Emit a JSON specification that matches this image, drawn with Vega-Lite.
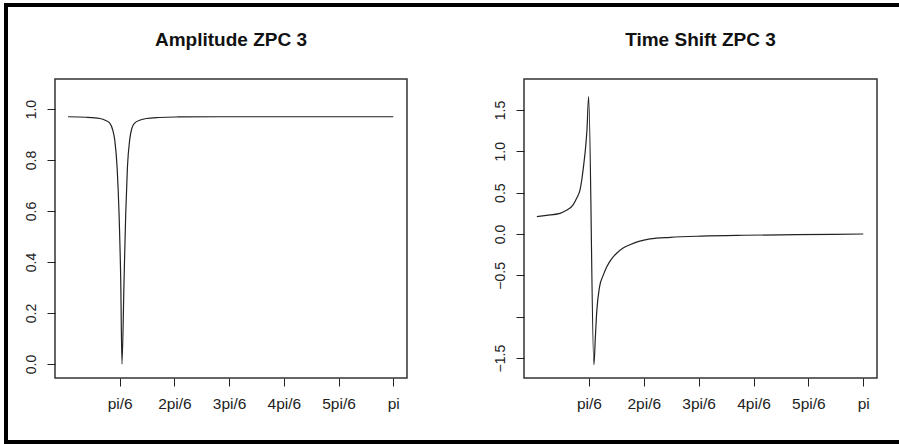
{
  "$schema": "https://vega.github.io/schema/vega-lite/v6.json",
  "background": "white",
  "padding": {"left": 4, "top": 3, "right": 0, "bottom": 0},
  "datasets": {
    "amp": [
      {"x": 0.029, "y": 0.970}, {"x": 0.2, "y": 0.968}, {"x": 0.333, "y": 0.963}, {"x": 0.39, "y": 0.955},
      {"x": 0.428, "y": 0.945}, {"x": 0.455, "y": 0.92}, {"x": 0.476, "y": 0.878}, {"x": 0.498, "y": 0.774},
      {"x": 0.517, "y": 0.59}, {"x": 0.533, "y": 0.33}, {"x": 0.545, "y": 0.0}, {"x": 0.565, "y": 0.33},
      {"x": 0.581, "y": 0.59}, {"x": 0.597, "y": 0.77}, {"x": 0.619, "y": 0.88}, {"x": 0.64, "y": 0.925},
      {"x": 0.666, "y": 0.945}, {"x": 0.72, "y": 0.957}, {"x": 0.778, "y": 0.963}, {"x": 0.9, "y": 0.967},
      {"x": 1.063, "y": 0.969}, {"x": 1.5, "y": 0.970}, {"x": 2.0, "y": 0.970}, {"x": 2.5, "y": 0.970},
      {"x": 3.1416, "y": 0.970}
    ],
    "ts": [
      {"x": 0.027, "y": 0.21}, {"x": 0.12, "y": 0.225}, {"x": 0.247, "y": 0.25}, {"x": 0.30, "y": 0.28},
      {"x": 0.371, "y": 0.35}, {"x": 0.41, "y": 0.44}, {"x": 0.438, "y": 0.53}, {"x": 0.455, "y": 0.65},
      {"x": 0.476, "y": 0.86}, {"x": 0.49, "y": 1.02}, {"x": 0.505, "y": 1.26}, {"x": 0.521, "y": 1.66},
      {"x": 0.571, "y": -1.58}, {"x": 0.585, "y": -1.25}, {"x": 0.597, "y": -0.96}, {"x": 0.625, "y": -0.64},
      {"x": 0.66, "y": -0.50}, {"x": 0.693, "y": -0.40}, {"x": 0.74, "y": -0.30}, {"x": 0.791, "y": -0.23},
      {"x": 0.85, "y": -0.17}, {"x": 0.915, "y": -0.13}, {"x": 1.0, "y": -0.09}, {"x": 1.106, "y": -0.06},
      {"x": 1.3, "y": -0.04}, {"x": 1.6, "y": -0.025}, {"x": 2.0, "y": -0.015}, {"x": 2.5, "y": -0.008},
      {"x": 3.1416, "y": 0.0}
    ]
  },
  "bounds": "full",
  "spacing": 0,
  "vconcat": [
    {
      "width": 895, "height": 4,
      "data": {"values": []},
      "mark": "point",
      "view": {"fill": "black", "stroke": null}
    },
    {
      "bounds": "flush",
      "spacing": 47,
      "hconcat": [
        {
          "width": 4, "height": 433,
          "data": {"values": []},
          "mark": "point",
          "view": {"fill": "black", "stroke": null}
        },
        {
          "bounds": "flush",
          "spacing": 71,
          "vconcat": [
            {
              "width": 1, "height": 1,
              "data": {"values": []},
              "mark": "point",
              "view": {"stroke": null}
            },
            {
              "bounds": "flush",
              "spacing": 117,
              "hconcat": [
                {
                  "width": 352, "height": 299,
                  "title": "Amplitude ZPC 3",
                  "data": {"name": "amp"},
                  "mark": {"type": "line", "interpolate": "monotone", "color": "#222", "strokeWidth": 1.2},
                  "encoding": {
                    "x": {"field": "x", "type": "quantitative",
                      "scale": {"domain": [-0.096, 3.273], "nice": false, "zero": false},
                      "axis": {"title": null, "values": [0.5236, 1.0472, 1.5708, 2.0944, 2.618, 3.1416],
                        "labelExpr": "['', 'pi/6', '2pi/6', '3pi/6', '4pi/6', '5pi/6', 'pi'][round(datum.value * 6 / PI)]"}},
                    "y": {"field": "y", "type": "quantitative",
                      "scale": {"domain": [-0.055, 1.118], "nice": false, "zero": false},
                      "axis": {"title": null, "values": [0, 0.2, 0.4, 0.6, 0.8, 1.0], "format": ".1f"}}
                  }
                },
                {
                  "width": 353, "height": 299,
                  "title": "Time Shift ZPC 3",
                  "data": {"name": "ts"},
                  "mark": {"type": "line", "interpolate": "monotone", "color": "#222", "strokeWidth": 1.2},
                  "encoding": {
                    "x": {"field": "x", "type": "quantitative",
                      "scale": {"domain": [-0.096, 3.273], "nice": false, "zero": false},
                      "axis": {"title": null, "values": [0.5236, 1.0472, 1.5708, 2.0944, 2.618, 3.1416],
                        "labelExpr": "['', 'pi/6', '2pi/6', '3pi/6', '4pi/6', '5pi/6', 'pi'][round(datum.value * 6 / PI)]"}},
                    "y": {"field": "y", "type": "quantitative",
                      "scale": {"domain": [-1.741, 1.874], "nice": false, "zero": false},
                      "axis": {"title": null, "values": [-1.5, -1.0, -0.5, 0, 0.5, 1.0, 1.5], "format": ".1f",
                        "labelExpr": "datum.value == -1 ? '' : datum.label"}}
                  }
                }
              ]
            }
          ]
        }
      ]
    },
    {
      "width": 895, "height": 4,
      "data": {"values": []},
      "mark": "point",
      "view": {"fill": "black", "stroke": null}
    }
  ],
  "config": {
    "font": "Liberation Sans",
    "view": {"stroke": "#333", "strokeWidth": 1.5},
    "axis": {"domain": false, "grid": false, "tickColor": "#222", "tickSize": 8, "tickWidth": 1,
      "labelFont": "Liberation Sans", "labelFontSize": 15.5, "labelColor": "#222", "labelPadding": 10,
      "labelOverlap": false},
    "axisY": {"labelAngle": 270, "labelAlign": "center", "labelBaseline": "bottom", "labelPadding": 9, "labelFontSize": 14},
    "title": {"fontSize": 19, "fontWeight": "bold", "font": "Liberation Sans", "color": "#111", "offset": 29, "anchor": "middle"}
  }
}
